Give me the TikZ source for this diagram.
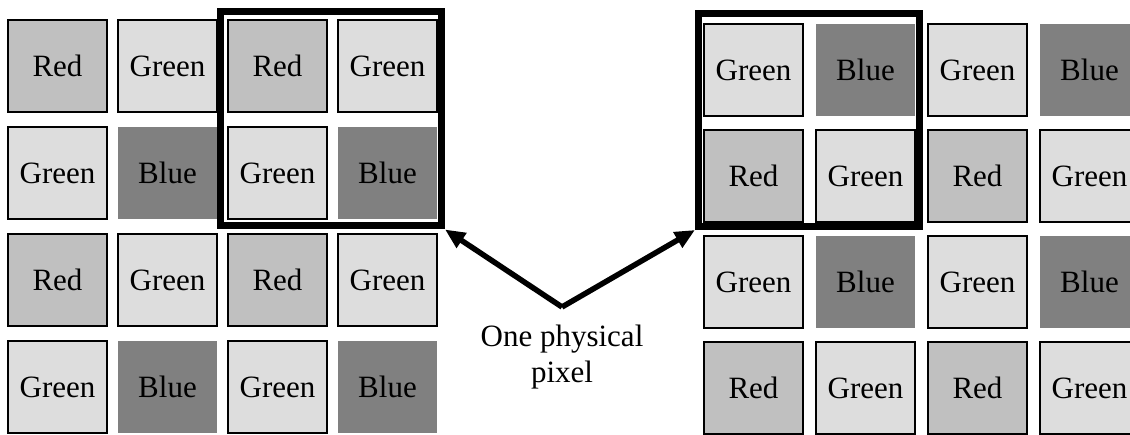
\documentclass[tikz,border=0pt]{standalone}
\usepackage{fontspec}
\setmainfont{Liberation Serif}
\usetikzlibrary{arrows.meta,positioning}
\definecolor{PixRed}{HTML}{C0C0C0}
\definecolor{PixGreen}{HTML}{DDDDDD}
\definecolor{PixBlue}{HTML}{808080}

\begin{document}
\begin{tikzpicture}[
  x=1pt, y=-1pt,
  font=\fontsize{31}{36}\selectfont,
  cell/.style={minimum width=99pt, minimum height=92pt, inner sep=0pt, outer sep=0pt},
  rcell/.style={cell, draw, line width=2pt, fill=PixRed},
  gcell/.style={cell, draw, line width=2pt, fill=PixGreen},
  bcell/.style={cell, fill=PixBlue},
  frame/.style={draw, line width=7pt, minimum width=221pt, minimum height=214pt},
  pointer/.style={-{Triangle[length=20pt,width=17pt]}, line width=5.5pt}
]
\path[use as bounding box, clip] (0,0) rectangle (1130,435);

% left sensor: RGGB
\begin{scope}[node distance=15pt and 11pt]
\node[rcell] (L11) at (57.5,66) {Red};
\node[gcell, right=of L11] (L12) {Green};
\node[rcell, right=of L12] (L13) {Red};
\node[gcell, right=of L13] (L14) {Green};
\node[gcell, below=of L11] (L21) {Green};
\node[bcell, right=of L21] (L22) {Blue};
\node[gcell, right=of L22] (L23) {Green};
\node[bcell, right=of L23] (L24) {Blue};
\node[rcell, below=of L21] (L31) {Red};
\node[gcell, right=of L31] (L32) {Green};
\node[rcell, right=of L32] (L33) {Red};
\node[gcell, right=of L33] (L34) {Green};
\node[gcell, below=of L31] (L41) {Green};
\node[bcell, right=of L41] (L42) {Blue};
\node[gcell, right=of L42] (L43) {Green};
\node[bcell, right=of L43] (L44) {Blue};
\end{scope}

% right sensor: GBRG
\begin{scope}[node distance=14pt and 13pt]
\node[gcell] (R11) at (753.5,70) {Green};
\node[bcell, right=of R11] (R12) {Blue};
\node[gcell, right=of R12] (R13) {Green};
\node[bcell, right=of R13] (R14) {Blue};
\node[rcell, below=of R11] (R21) {Red};
\node[gcell, right=of R21] (R22) {Green};
\node[rcell, right=of R22] (R23) {Red};
\node[gcell, right=of R23] (R24) {Green};
\node[gcell, below=of R21] (R31) {Green};
\node[bcell, right=of R31] (R32) {Blue};
\node[gcell, right=of R32] (R33) {Green};
\node[bcell, right=of R33] (R34) {Blue};
\node[rcell, below=of R31] (R41) {Red};
\node[gcell, right=of R41] (R42) {Green};
\node[rcell, right=of R42] (R43) {Red};
\node[gcell, right=of R43] (R44) {Green};
\end{scope}

% 2x2 blocks
\node[frame] (lframe) at (331,119) {};
\node[frame, minimum height=213pt] (rframe) at (809,120) {};

\node[align=center, inner sep=0pt] (label) at (562,357) {One physical\\pixel};
\coordinate (apex) at (562,307);

\draw[pointer] (apex) -- (lframe.south east);
\draw[pointer] (apex) -- (rframe.south west);
\end{tikzpicture}
\end{document}
